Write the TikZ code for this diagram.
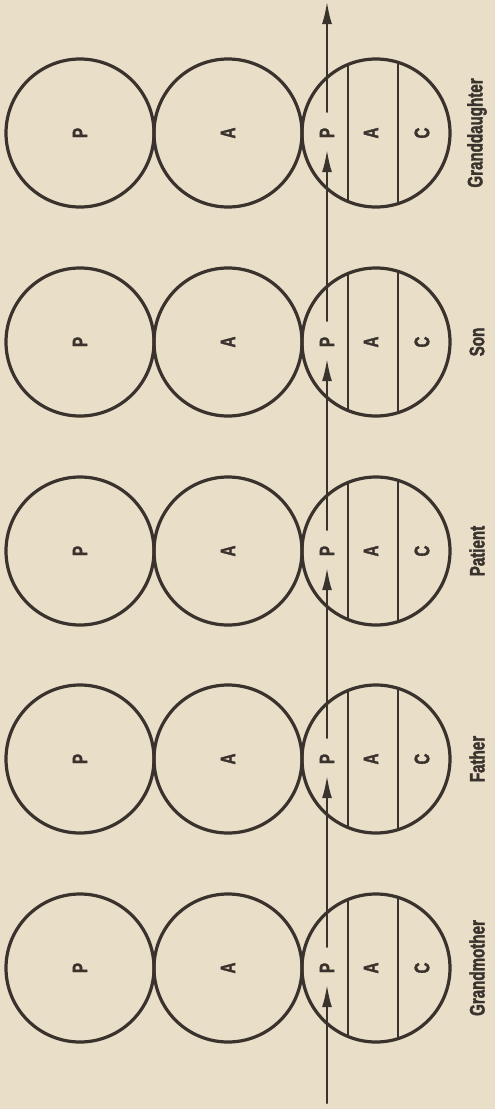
\documentclass[tikz,border=0pt]{standalone}
\usepackage{fontspec}
\newfontfamily\condsans[FakeStretch=0.72, FakeBold=1.6]{Liberation Sans Bold}
\usetikzlibrary{arrows.meta,calc}
\definecolor{paper}{RGB}{233,222,199}
\definecolor{ink}{RGB}{58,50,45}
\tikzset{
  ring/.style={circle, draw=ink, line width=3.2pt, minimum size=148pt,
               inner sep=0pt, rotate=90, text=ink,
               font=\condsans\fontsize{21}{24}\selectfont},
  split/.style={circle, draw=ink, line width=3.2pt, minimum size=148pt,
                inner sep=0pt,
                path picture={\draw[ink, line width=2.8pt]
                  ([xshift=-28pt]path picture bounding box.south) --
                  ([xshift=-28pt]path picture bounding box.north)
                  ([xshift=22pt]path picture bounding box.south) --
                  ([xshift=22pt]path picture bounding box.north);}},
  tag/.style={rotate=90, inner sep=1pt, text=ink,
              font=\condsans\fontsize{21}{24}\selectfont},
  who/.style={rotate=90, inner sep=1pt, text=ink,
              font=\condsans\fontsize{21}{24}\selectfont},
  flow/.style={-{Latex[length=23pt, width=10pt]}, draw=ink, line width=2.6pt,
               line cap=round},
}
\begin{document}
\begin{tikzpicture}[x=1pt, y=-1pt]
  \useasboundingbox (0,0) rectangle (495,1109);
  \fill[paper] (0,0) rectangle (495,1109);
  \foreach \y/\name [count=\i] in {968/Grandmother, 759/Father, 551/Patient,
                                   342/Son, 133/Granddaughter} {
    \node[ring] (P\i) at (80,\y) {P};
    \node[ring] (A\i) at (228,\y) {A};
    \node[split] (S\i) at (376,\y) {};
    \node[tag, minimum width=32pt] (p\i) at (327,\y) {P};
    \node[tag] (a\i) at (371,\y) {A};
    \node[tag] (c\i) at (422,\y) {C};
    \node[who] (n\i) at (477,\y) {\name};
  }
  \coordinate (start) at (327,1103);
  \coordinate (finish) at (327,1);
  \draw[flow] (start) -- (p1.west);
  \foreach \i [count=\j from 2] in {1,...,4}
    \draw[flow, shorten <=5pt] (p\i.east) -- (p\j.west);
  \draw[flow, shorten <=5pt] (p5.east) -- (finish);
\end{tikzpicture}
\end{document}
